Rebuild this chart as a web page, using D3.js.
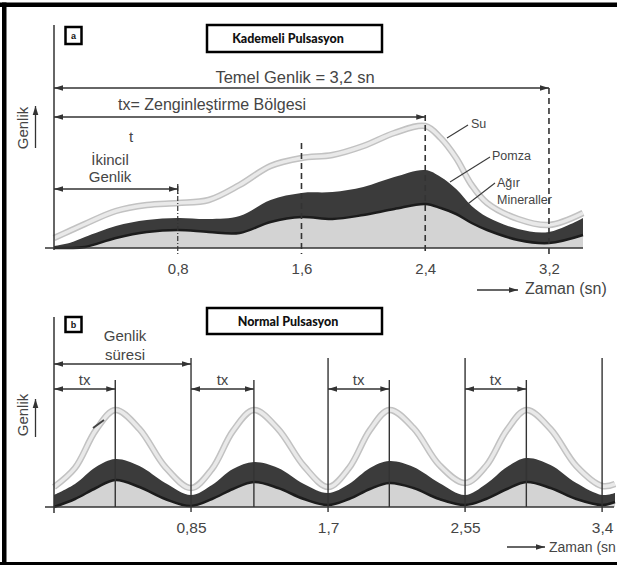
<!DOCTYPE html>
<html>
<head>
<meta charset="utf-8">
<script src="https://d3js.org/d3.v7.min.js"></script>
<style>
body { margin: 0; background: #fff; }
svg { display: block; font-family: "Liberation Sans", Arial, sans-serif; }
</style>
</head>
<body>
<div id="chartContainer"></div>
<script>
//panel a - Kademeli Pulsasyon (time in sn, amplitude in arbitrary units)
var timeA = [0, 0.1, 0.2, 0.4, 0.6, 0.8, 1.0, 1.2, 1.4, 1.6, 1.8, 2.0, 2.2, 2.4, 2.5, 2.6, 2.7, 2.8, 3.0, 3.2, 3.42];
var suA = [0.5, 0.85, 1.2, 1.85, 2.15, 2.25, 2.4, 3.15, 4.1, 4.5, 4.65, 5.1, 5.75, 6.1, 5.5, 4.5, 3.15, 2.25, 1.45, 1.15, 1.75];
var pomzaA = [0.1, 0.25, 0.55, 1.1, 1.4, 1.5, 1.45, 1.6, 2.4, 2.75, 2.8, 3.05, 3.55, 3.9, 3.55, 2.95, 2.1, 1.55, 0.95, 0.8, 1.5];
var agirA = [0, 0, 0.05, 0.5, 0.8, 0.9, 0.8, 0.75, 1.3, 1.55, 1.45, 1.65, 1.95, 2.2, 2.0, 1.7, 1.25, 0.9, 0.4, 0.25, 0.65];
var ticksA = [0.8, 1.6, 2.4, 3.2];

//panel b - Normal Pulsasyon
var timeB = [0, 0.13, 0.26, 0.38, 0.53, 0.69,
             0.85, 0.98, 1.11, 1.24, 1.39, 1.55,
             1.70, 1.83, 1.96, 2.08, 2.23, 2.39,
             2.55, 2.68, 2.81, 2.93, 3.08, 3.24,
             3.40, 3.48];
var suB = [1.0, 1.95, 3.85, 4.85, 3.9, 2.0,
           0.95, 1.9, 3.8, 4.85, 3.9, 2.05,
           1.0, 1.95, 3.85, 4.85, 3.95, 2.1,
           1.2, 2.05, 3.85, 4.85, 3.9, 2.05,
           1.05, 1.15];
var pomzaB = [0.6, 1.15, 2.0, 2.4, 2.05, 1.2,
              0.6, 1.1, 1.9, 2.25, 1.95, 1.15,
              0.7, 1.15, 1.95, 2.3, 2.0, 1.2,
              0.6, 1.15, 2.0, 2.45, 2.1, 1.2,
              0.6, 0.7];
var agirB = [0.0, 0.4, 0.95, 1.35, 1.0, 0.4,
             0.05, 0.4, 0.9, 1.25, 0.95, 0.4,
             0.1, 0.4, 0.9, 1.2, 0.95, 0.4,
             0.1, 0.4, 0.9, 1.25, 0.95, 0.4,
             0.1, 0.25];
var ticksB = [0.85, 1.7, 2.55, 3.4];
var peaksB = [0.38, 1.24, 2.08, 2.93];

var W = 617, H = 565;
var ink = "#333", textCol = "#454545";

var svg = d3.select("#chartContainer").append("svg")
    .attr("width", W)
    .attr("height", H);

//arrow head, reused for both ends
svg.append("defs").append("marker")
    .attr("id", "arr")
    .attr("viewBox", "0 -4 9 8")
    .attr("refX", 9)
    .attr("refY", 0)
    .attr("markerWidth", 9)
    .attr("markerHeight", 8)
    .attr("markerUnits", "userSpaceOnUse")
    .attr("orient", "auto-start-reverse")
  .append("path")
    .attr("d", "M0,-2.8L9,0L0,2.8Z")
    .attr("fill", ink);

var fmt = function (d) { return String(d).replace(".", ","); };

function arrow(x1, x2, y, both) {
    var l = svg.append("line")
        .attr("x1", x1).attr("x2", x2)
        .attr("y1", y).attr("y2", y)
        .attr("stroke", ink)
        .attr("stroke-width", 1.3)
        .attr("marker-end", "url(#arr)");
    if (both) l.attr("marker-start", "url(#arr)");
}

function label(x, y, txt, size, anchor, weight) {
    return svg.append("text")
        .attr("x", x).attr("y", y)
        .attr("text-anchor", anchor || "start")
        .style("font-size", size + "px")
        .style("font-weight", weight || "normal")
        .attr("fill", textCol)
        .text(txt);
}

function titleBox(y, h, txt, letter, ly, lh) {
    svg.append("rect")
        .attr("x", 207).attr("y", y).attr("width", 175).attr("height", h)
        .attr("fill", "#fff").attr("stroke", "#000").attr("stroke-width", 2.5);
    svg.append("text")
        .attr("x", 288).attr("y", y + h / 2 + 4.5)
        .attr("text-anchor", "middle")
        .style("font-family", "Lato, 'Open Sans', sans-serif")
        .style("font-weight", "900")
        .style("font-size", "12.5px")
        .attr("fill", "#111")
        .text(txt);
    svg.append("rect")
        .attr("x", 65.5).attr("y", ly).attr("width", 16).attr("height", lh)
        .attr("fill", "#fff").attr("stroke", "#000").attr("stroke-width", 2.5);
    svg.append("text")
        .attr("x", 73.5).attr("y", ly + lh / 2 + 3)
        .attr("text-anchor", "middle")
        .style("font-weight", "bold")
        .style("font-size", "9px")
        .attr("fill", "#111")
        .text(letter);
}

function genlikAxis(cy, ay1, ay2) {
    svg.append("text")
        .attr("transform", "translate(28," + cy + ") rotate(-90)")
        .attr("text-anchor", "middle")
        .style("font-size", "15px")
        .attr("fill", textCol)
        .text("Genlik");
    svg.append("line")
        .attr("x1", 35.5).attr("x2", 35.5)
        .attr("y1", ay1).attr("y2", ay2)
        .attr("stroke", ink).attr("stroke-width", 1.3)
        .attr("marker-end", "url(#arr)");
}

//draws the three layers: light mineral fill, dark pomza band, su line
function drawCurves(x, y, time, su, pomza, agir) {
    var pts = time.map(function (t, i) {
        return { t: t, su: su[i], pomza: pomza[i], agir: agir[i] };
    });
    var curve = d3.curveCatmullRom.alpha(0.5);

    svg.append("path")
        .datum(pts)
        .attr("fill", "#d3d3d3")
        .attr("d", d3.area().curve(curve)
            .x(function (d) { return x(d.t); })
            .y0(y(0))
            .y1(function (d) { return y(d.agir); }));

    svg.append("path")
        .datum(pts)
        .attr("fill", "#3b3b3b")
        .attr("d", d3.area().curve(curve)
            .x(function (d) { return x(d.t); })
            .y0(function (d) { return y(d.agir); })
            .y1(function (d) { return y(d.pomza); }));

    svg.append("path")
        .datum(pts)
        .attr("fill", "none")
        .attr("stroke", "#1c1c1c")
        .attr("stroke-width", 2.5)
        .attr("d", d3.line().curve(curve)
            .x(function (d) { return x(d.t); })
            .y(function (d) { return y(d.agir); }));

    var suLine = d3.line().curve(curve)
        .x(function (d) { return x(d.t); })
        .y(function (d) { return y(d.su); });
    svg.append("path").datum(pts)
        .attr("fill", "none").attr("stroke", "#c2c2c2").attr("stroke-width", 6.5)
        .attr("d", suLine);
    svg.append("path").datum(pts)
        .attr("fill", "none").attr("stroke", "#e9e9e9").attr("stroke-width", 3.5)
        .attr("d", suLine);
}

function bottomAxis(x, y0, ticks, fontSize) {
    var ax = d3.axisBottom(x)
        .tickValues(ticks)
        .tickSize(0)
        .tickPadding(15)
        .tickFormat(fmt);
    var g = svg.append("g")
        .attr("transform", "translate(0," + y0 + ")")
        .call(ax);
    g.select(".domain").remove();
    g.selectAll("text")
        .style("font-family", "'Liberation Sans', Arial, sans-serif")
        .style("font-size", fontSize + "px")
        .attr("fill", textCol);
}

// ---------------- panel a ----------------
var xA = d3.scaleLinear().domain([0, 3.42]).range([54, 583]);
var yA = d3.scaleLinear().domain([0, 10]).range([248, 48]);

titleBox(25, 27, "Kademeli Pulsasyon", "a", 27, 17);

drawCurves(xA, yA, timeA, suA, pomzaA, agirA);

//y axis and baseline
svg.append("line").attr("x1", 54).attr("x2", 54).attr("y1", 25).attr("y2", 250)
    .attr("stroke", ink).attr("stroke-width", 1.5);
svg.append("line").attr("x1", 45).attr("x2", 583).attr("y1", 248).attr("y2", 248)
    .attr("stroke", ink).attr("stroke-width", 1.6);

//dashed guides at each tick
var guideTopA = [186, 143, 115, 88];
ticksA.forEach(function (t, i) {
    svg.append("line")
        .attr("x1", xA(t)).attr("x2", xA(t))
        .attr("y1", guideTopA[i]).attr("y2", 254)
        .attr("stroke", ink)
        .attr("stroke-width", i == 0 ? 1.2 : 1.6)
        .attr("stroke-dasharray", i == 0 ? "5,2,1,2" : "6,4");
});

bottomAxis(xA, 248, ticksA, 15);

//span arrows
arrow(xA(0), xA(3.2), 88, true);
label(295, 83, "Temel Genlik = 3,2 sn", 16.5, "middle");
arrow(xA(0), xA(2.4), 117, true);
label(118, 110, "tx= Zenginleştirme Bölgesi", 16, "start");
label(131, 142, "t", 15, "middle");
label(110, 165, "İkincil", 15, "middle");
label(110, 182, "Genlik", 15, "middle");
arrow(xA(0), xA(0.8), 189, true);
svg.append("line").attr("x1", xA(0.8)).attr("x2", xA(0.8)).attr("y1", 184).attr("y2", 194)
    .attr("stroke", ink).attr("stroke-width", 1.3);

//curve labels with leaders
var leaders = [
    { from: [447, 138], to: [468, 125] },
    { from: [450, 182], to: [490, 157] },
    { from: [460, 210], to: [495, 183] }
];
leaders.forEach(function (l) {
    svg.append("line")
        .attr("x1", l.from[0]).attr("y1", l.from[1])
        .attr("x2", l.to[0]).attr("y2", l.to[1])
        .attr("stroke", "#3a3a3a").attr("stroke-width", 1.1);
});
label(471, 128, "Su", 12.5);
label(492, 160, "Pomza", 12.5);
label(497, 187, "Ağır", 12.5);
label(497, 204, "Mineraller", 12.5);

genlikAxis(128, 148, 106);

arrow(477, 518, 290, false);
label(525, 294, "Zaman (sn)", 16);

// ---------------- panel b ----------------
var xB = d3.scaleLinear().domain([0, 3.48]).range([54, 615]);
var yB = d3.scaleLinear().domain([0, 10]).range([507, 307]);

titleBox(308, 26, "Normal Pulsasyon", "b", 317, 15);

drawCurves(xB, yB, timeB, suB, pomzaB, agirB);

//little dark stroke on the first rising su curve
svg.append("line").attr("x1", 93).attr("y1", 428).attr("x2", 104).attr("y2", 420)
    .attr("stroke", "#444").attr("stroke-width", 2);

svg.append("line").attr("x1", 54).attr("x2", 54).attr("y1", 317).attr("y2", 513)
    .attr("stroke", ink).attr("stroke-width", 1.5);
svg.append("line").attr("x1", 45).attr("x2", 614).attr("y1", 507).attr("y2", 507)
    .attr("stroke", ink).attr("stroke-width", 1.6);

//period lines and tx (peak) lines
ticksB.forEach(function (t) {
    svg.append("line")
        .attr("x1", xB(t)).attr("x2", xB(t))
        .attr("y1", 358).attr("y2", 512)
        .attr("stroke", ink).attr("stroke-width", 1.4);
});
peaksB.forEach(function (t, i) {
    svg.append("line")
        .attr("x1", xB(t)).attr("x2", xB(t))
        .attr("y1", 380).attr("y2", 507)
        .attr("stroke", ink).attr("stroke-width", 1.4);
    var start = i == 0 ? 0 : ticksB[i - 1];
    arrow(xB(start), xB(t), 389, true);
    label((xB(start) + xB(t)) / 2, 385, "tx", 15, "middle");
});

bottomAxis(xB, 507, ticksB, 15.5);

arrow(xB(0), xB(0.85), 364, true);
label(125, 341, "Genlik", 15, "middle");
label(125, 360, "süresi", 15, "middle");

genlikAxis(415, 437, 399);

//the original label runs off the right edge, only "Zaman (sn" is visible
arrow(507, 545, 547, false);
label(549, 552, "Zaman (sn", 14);

// ---------------- frame ----------------
svg.append("rect").attr("x", 0).attr("y", 2.5).attr("width", W).attr("height", 4.5).attr("fill", "#000");
svg.append("rect").attr("x", 2).attr("y", 2.5).attr("width", 4.5).attr("height", H).attr("fill", "#000");
svg.append("rect").attr("x", 0).attr("y", 562).attr("width", W).attr("height", 3).attr("fill", "#000");
</script>
</body>
</html>
